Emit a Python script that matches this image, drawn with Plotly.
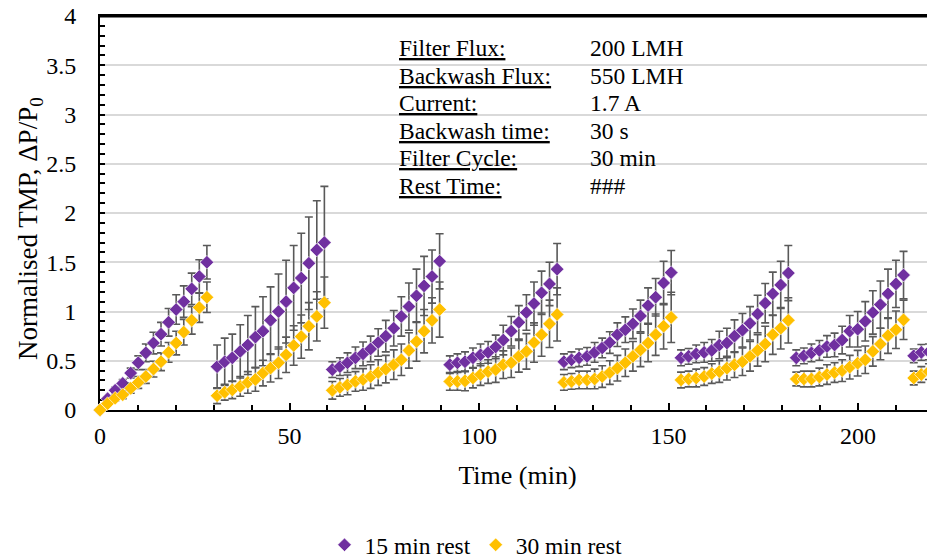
import plotly.graph_objects as go

# ---- time stamps (min), one list per filter cycle ----
t_c1 = [0, 2.0, 4.0, 6.0, 8.1, 10.1, 12.1, 14.1, 16.1, 18.1, 20.1, 22.1, 24.2, 26.2, 28.2]
t_c2 = [30.9, 32.9, 34.9, 37.0, 39.0, 41.0, 43.0, 45.0, 47.1, 49.1, 51.1, 53.1, 55.1, 57.2, 59.2]
t_c3 = [61.3, 63.3, 65.3, 67.4, 69.4, 71.4, 73.4, 75.4, 77.5, 79.5, 81.5, 83.5, 85.5, 87.6, 89.6]
t_c4 = [92.3, 94.3, 96.3, 98.4, 100.4, 102.4, 104.4, 106.4, 108.5, 110.5, 112.5, 114.5, 116.5, 118.6, 120.6]
t_c5 = [122.4, 124.4, 126.4, 128.5, 130.5, 132.5, 134.5, 136.5, 138.6, 140.6, 142.6, 144.6, 146.6, 148.7, 150.7]
t_c6 = [153.3, 155.3, 157.3, 159.4, 161.4, 163.4, 165.4, 167.4, 169.5, 171.5, 173.5, 175.5, 177.5, 179.6, 181.6]
t_c7 = [183.7, 185.7, 187.7, 189.8, 191.8, 193.8, 195.8, 197.8, 199.9, 201.9, 203.9, 205.9, 207.9, 210.0, 212.0]
t_c8 = [214.7, 216.7, 218.7, 220.8]

# ---- 15 min rest: normalised TMP ----
r15_c1 = [0, 0.115, 0.2, 0.27, 0.375, 0.48, 0.58, 0.68, 0.77, 0.89, 1.02, 1.10, 1.23, 1.355, 1.50]
r15_c2 = [0.44, 0.49, 0.53, 0.595, 0.66, 0.74, 0.80, 0.91, 1.00, 1.10, 1.24, 1.34, 1.49, 1.625, 1.70]
r15_c3 = [0.41, 0.44, 0.48, 0.53, 0.57, 0.62, 0.685, 0.75, 0.83, 0.95, 1.05, 1.16, 1.26, 1.355, 1.51]
r15_c4 = [0.46, 0.48, 0.49, 0.53, 0.56, 0.585, 0.64, 0.71, 0.80, 0.89, 0.99, 1.08, 1.19, 1.28, 1.43]
r15_c5 = [0.49, 0.51, 0.53, 0.545, 0.585, 0.63, 0.685, 0.765, 0.815, 0.875, 0.955, 1.06, 1.145, 1.29, 1.395]
r15_c6 = [0.53, 0.545, 0.57, 0.585, 0.605, 0.66, 0.68, 0.75, 0.81, 0.88, 0.975, 1.085, 1.18, 1.27, 1.39]
r15_c7 = [0.53, 0.55, 0.58, 0.605, 0.645, 0.66, 0.71, 0.80, 0.82, 0.90, 0.99, 1.07, 1.18, 1.28, 1.37]
r15_c8 = [0.55, 0.585, 0.59, 0.62]

# ---- 15 min rest: error (+/-) ----
e15_c1 = [0, 0.02, 0.03, 0.04, 0.05, 0.07, 0.09, 0.11, 0.12, 0.14, 0.15, 0.16, 0.16, 0.17, 0.17]
e15_c2 = [0.22, 0.24, 0.24, 0.27, 0.30, 0.31, 0.35, 0.34, 0.38, 0.42, 0.43, 0.455, 0.47, 0.50, 0.57]
e15_c3 = [0.08, 0.09, 0.10, 0.11, 0.12, 0.13, 0.14, 0.16, 0.18, 0.20, 0.24, 0.27, 0.30, 0.27, 0.28]
e15_c4 = [0.09, 0.09, 0.10, 0.10, 0.11, 0.11, 0.12, 0.15, 0.15, 0.17, 0.18, 0.22, 0.22, 0.22, 0.26]
e15_c5 = [0.08, 0.08, 0.09, 0.09, 0.10, 0.10, 0.11, 0.12, 0.13, 0.15, 0.16, 0.18, 0.19, 0.22, 0.225]
e15_c6 = [0.08, 0.08, 0.09, 0.10, 0.11, 0.14, 0.15, 0.165, 0.17, 0.17, 0.19, 0.20, 0.22, 0.24, 0.28]
e15_c7 = [0.08, 0.08, 0.09, 0.10, 0.11, 0.12, 0.14, 0.16, 0.18, 0.20, 0.22, 0.24, 0.25, 0.24, 0.24]
e15_c8 = [0.07, 0.08, 0.08, 0.09]

# ---- 30 min rest: normalised TMP ----
r30_c1 = [0, 0.065, 0.12, 0.155, 0.22, 0.28, 0.34, 0.415, 0.49, 0.585, 0.68, 0.79, 0.91, 1.04, 1.145]
r30_c2 = [0.145, 0.18, 0.205, 0.24, 0.28, 0.31, 0.375, 0.425, 0.48, 0.56, 0.655, 0.745, 0.85, 0.95, 1.09]
r30_c3 = [0.20, 0.23, 0.255, 0.29, 0.31, 0.34, 0.38, 0.415, 0.46, 0.51, 0.605, 0.695, 0.80, 0.91, 1.02]
r30_c4 = [0.29, 0.29, 0.295, 0.325, 0.36, 0.39, 0.41, 0.46, 0.48, 0.545, 0.595, 0.685, 0.765, 0.875, 0.97]
r30_c5 = [0.28, 0.29, 0.305, 0.305, 0.315, 0.34, 0.38, 0.425, 0.48, 0.545, 0.61, 0.68, 0.765, 0.85, 0.94]
r30_c6 = [0.305, 0.315, 0.325, 0.34, 0.37, 0.39, 0.425, 0.46, 0.49, 0.545, 0.605, 0.67, 0.765, 0.83, 0.91]
r30_c7 = [0.315, 0.315, 0.315, 0.335, 0.36, 0.38, 0.40, 0.435, 0.475, 0.51, 0.595, 0.67, 0.755, 0.815, 0.915]
r30_c8 = [0.325, 0.36, 0.39, 0.40]

# ---- 30 min rest: error (+/-) ----
e30_c1 = [0, 0.02, 0.03, 0.04, 0.05, 0.06, 0.07, 0.08, 0.09, 0.10, 0.12, 0.13, 0.14, 0.15, 0.155]
e30_c2 = [0.08, 0.08, 0.09, 0.10, 0.11, 0.12, 0.13, 0.14, 0.16, 0.18, 0.20, 0.22, 0.24, 0.25, 0.26]
e30_c3 = [0.09, 0.09, 0.10, 0.10, 0.11, 0.12, 0.13, 0.14, 0.15, 0.16, 0.18, 0.20, 0.22, 0.23, 0.28]
e30_c4 = [0.09, 0.09, 0.10, 0.10, 0.11, 0.12, 0.13, 0.14, 0.15, 0.16, 0.18, 0.20, 0.22, 0.24, 0.27]
e30_c5 = [0.08, 0.08, 0.09, 0.09, 0.10, 0.11, 0.12, 0.13, 0.14, 0.15, 0.17, 0.19, 0.21, 0.23, 0.255]
e30_c6 = [0.08, 0.08, 0.09, 0.09, 0.10, 0.11, 0.12, 0.13, 0.14, 0.15, 0.16, 0.18, 0.20, 0.21, 0.23]
e30_c7 = [0.07, 0.08, 0.08, 0.09, 0.10, 0.10, 0.11, 0.12, 0.13, 0.14, 0.15, 0.16, 0.18, 0.19, 0.20]
e30_c8 = [0.07, 0.08, 0.08, 0.09]

series_names = ["15 min rest", "30 min rest"]
info_labels = ["Filter Flux:", "Backwash Flux:", "Current:", "Backwash time:", "Filter Cycle:", "Rest Time:"]
info_values = ["200 LMH", "550 LMH", "1.7 A", "30 s", "30 min", "###"]
y_ticks = [0, 0.5, 1, 1.5, 2, 2.5, 3, 3.5, 4]
y_tick_text = ["0", "0.5", "1", "1.5", "2", "2.5", "3", "3.5", "4"]
x_ticks = [0, 50, 100, 150, 200]
x_title = "Time (min)"
y_title = "Normalised TMP, ΔP/P<sub>0</sub>"

time = t_c1 + t_c2 + t_c3 + t_c4 + t_c5 + t_c6 + t_c7 + t_c8
r15 = r15_c1 + r15_c2 + r15_c3 + r15_c4 + r15_c5 + r15_c6 + r15_c7 + r15_c8
e15 = e15_c1 + e15_c2 + e15_c3 + e15_c4 + e15_c5 + e15_c6 + e15_c7 + e15_c8
r30 = r30_c1 + r30_c2 + r30_c3 + r30_c4 + r30_c5 + r30_c6 + r30_c7 + r30_c8
e30 = e30_c1 + e30_c2 + e30_c3 + e30_c4 + e30_c5 + e30_c6 + e30_c7 + e30_c8

FONT = "Liberation Serif, Times New Roman, serif"
PURPLE = "#7030A0"
ORANGE = "#FFC000"
ERR = "#595959"

fig = go.Figure()
for name, yv, ev, col in [(series_names[0], r15, e15, PURPLE), (series_names[1], r30, e30, ORANGE)]:
    fig.add_trace(go.Scatter(
        x=time, y=yv, name=name, mode="markers",
        marker=dict(symbol="diamond", size=10.5, color=col, line=dict(color="white", width=0.6)),
        error_y=dict(type="data", array=ev, visible=True, color=ERR, thickness=1.6, width=4),
        cliponaxis=False,
    ))

# page body adds an 8px offset; figure coordinates are compensated for it
OFF = 8
W, H = 935, 559
L, R, T, B = 92, 8, 8, 157
ph = H - T - B
pw = W - L - R

def py(screen_y):
    return (H - B - (screen_y - OFF)) / ph

def px(screen_x):
    return (screen_x - OFF - L) / pw

row_y = [48, 76, 103, 131, 158, 186]
for lab, val, yy in zip(info_labels, info_values, row_y):
    fig.add_annotation(x=px(397), y=py(yy), xref="paper", yref="paper", text="<u>" + lab + "</u>",
                       showarrow=False, xanchor="left", yanchor="middle",
                       font=dict(family=FONT, size=23.5, color="black"))
    fig.add_annotation(x=px(588), y=py(yy), xref="paper", yref="paper", text=val,
                       showarrow=False, xanchor="left", yanchor="middle",
                       font=dict(family=FONT, size=23.5, color="black"))

# y-axis title as rotated text
fig.add_annotation(x=px(30), y=py(229), xref="paper", yref="paper", text=y_title,
                   showarrow=False, xanchor="center", yanchor="middle", textangle=-90,
                   font=dict(family=FONT, size=27, color="black"))

# top border line of the plot area
fig.add_shape(type="line", xref="paper", yref="paper", x0=0, x1=1, y0=py(16.5), y1=py(16.5),
              line=dict(color="black", width=2), layer="above")

fig.update_layout(
    width=W, height=H,
    margin=dict(l=L, r=R, t=T, b=B, pad=0, autoexpand=False),
    paper_bgcolor="white", plot_bgcolor="white",
    font=dict(family=FONT, size=24, color="black"),
    showlegend=True,
    legend=dict(orientation="h", x=px(476), y=py(545), xanchor="center", yanchor="middle",
                font=dict(family=FONT, size=23.5, color="black"), itemwidth=30,
                tracegroupgap=0, bgcolor="rgba(0,0,0,0)"),
    xaxis=dict(
        range=[0, 220.3], tickvals=x_ticks, showgrid=False, zeroline=False,
        showline=True, linecolor="black", linewidth=2, mirror=True,
        ticks="inside", ticklen=7, tickwidth=1.5, tickcolor="black",
        minor=dict(dtick=10, ticks="inside", ticklen=5, tickwidth=1.5, tickcolor="black", showgrid=False),
        tickfont=dict(family=FONT, size=24, color="black"), ticklabelstandoff=3,
        ticklabeloverflow="allow",
        title=dict(text=x_title, font=dict(family=FONT, size=26, color="black"), standoff=18),
        layer="below traces", automargin=False,
    ),
    yaxis=dict(
        range=[0, 4], tickvals=y_ticks, ticktext=y_tick_text,
        showgrid=True, gridcolor="#D9D9D9", gridwidth=1.5, zeroline=False,
        showline=True, linecolor="black", linewidth=2,
        ticks="inside", ticklen=5, tickwidth=1.5, tickcolor="black",
        minor=dict(dtick=0.1, ticks="inside", ticklen=5, tickwidth=1.5, tickcolor="black", showgrid=False),
        tickfont=dict(family=FONT, size=24, color="black"), ticklabelstandoff=17,
        ticklabeloverflow="allow",
        layer="below traces", automargin=False,
    ),
)

fig.write_html("out.html", config={"displayModeBar": False})
